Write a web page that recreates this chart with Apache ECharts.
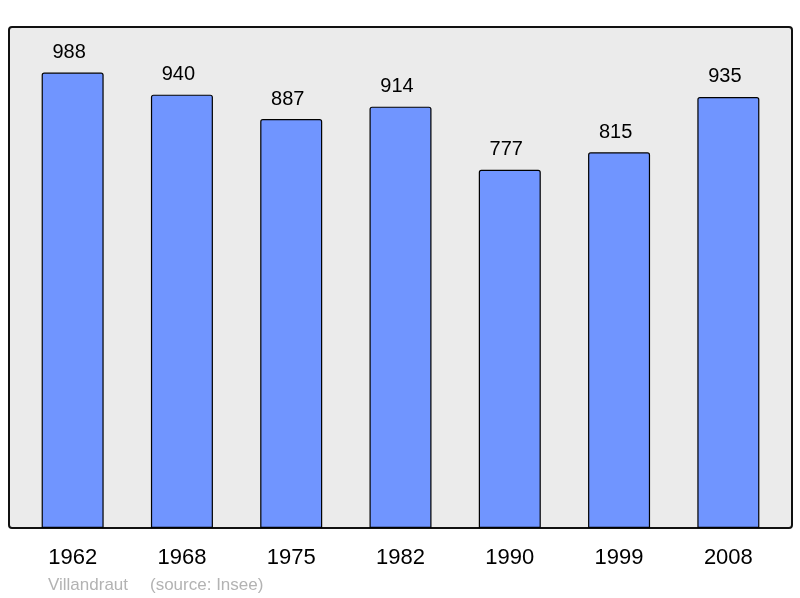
<!DOCTYPE html>
<html>
<head>
<meta charset="utf-8">
<script src="https://cdn.jsdelivr.net/npm/echarts@6/dist/echarts.min.js"></script>
<style>
  html, body { margin: 0; padding: 0; background: #fff; }
  #chart { width: 800px; height: 598px; }
</style>
</head>
<body>
<div id="chart"></div>
<script>
// données population
const years = ["1962", "1968", "1975", "1982", "1990", "1999", "2008"];
const population = [988, 940, 887, 914, 777, 815, 935];
const townName = "Villandraut";
const sourceText = "(source: Insee)";

const chart = echarts.init(document.getElementById("chart"));
const font = "Liberation Sans, Arial, sans-serif";

const option = {
  animation: false,
  graphic: [
    {
      type: "rect",
      z: -10,
      shape: { x: 9, y: 27, width: 783, height: 501, r: 3 },
      style: { fill: "#ebebeb", stroke: "#111", lineWidth: 2 },
    },
    {
      type: "text",
      left: 48,
      top: 577,
      style: { text: townName, fill: "#b3b3b3", font: "17px " + font },
    },
    {
      type: "text",
      left: 150,
      top: 577,
      style: { text: sourceText, fill: "#b3b3b3", font: "17px " + font },
    },
  ],
  grid: {
    left: 18,
    right: 17,
    top: 27,
    bottom: 70,
    containLabel: false,
  },
  xAxis: {
    type: "category",
    data: years,
    axisLine: { show: false },
    axisTick: { show: false },
    axisLabel: {
      color: "#000",
      fontSize: 22,
      fontFamily: font,
      margin: 19,
    },
  },
  yAxis: {
    type: "value",
    min: 0,
    max: 1086.8,
    show: false,
    splitLine: { show: false },
  },
  series: [
    {
      type: "bar",
      data: population,
      barWidth: 62,
      itemStyle: {
        color: "#7095ff",
        borderColor: "#000",
        borderWidth: 1.2,
        borderRadius: [2, 2, 0, 0],
      },
      label: {
        show: true,
        position: "top",
        distance: 10,
        offset: [-3.5, 0],
        color: "#000",
        fontSize: 20,
        fontFamily: font,
      },
    },
  ],
};
chart.setOption(option);
</script>
</body>
</html>
